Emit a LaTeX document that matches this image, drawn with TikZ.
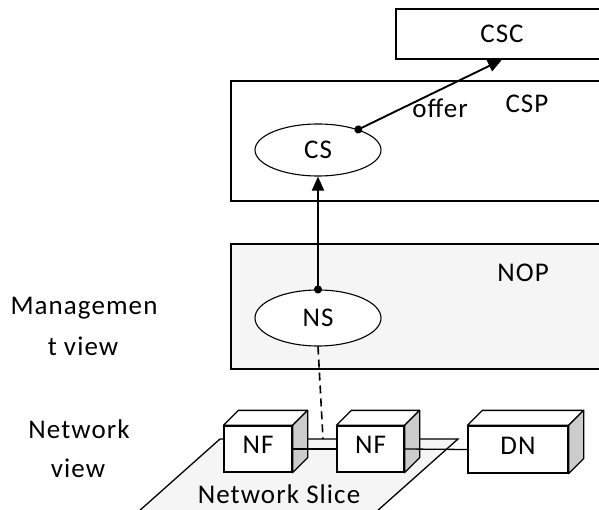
\documentclass[tikz,border=0pt]{standalone}
\usepackage{fontspec}
\setmainfont{Carlito}[LetterSpace=4]
\usetikzlibrary{arrows.meta,calc,shapes.geometric}
\newcommand\mycube[1]{%
  \draw[cubeface,fill=white] (#1.north west) -- ++(15,-15) -- ($(#1.north east)+(15,-15)$) -- (#1.north east) -- cycle;
  \draw[cubeface,fill=black!20] (#1.north east) -- ++(15,-15) -- ($(#1.south east)+(15,-15)$) -- (#1.south east) -- cycle;}
\begin{document}
\begin{tikzpicture}[x=1pt,y=-1pt,
  font=\fontsize{27}{32}\selectfont,
  box/.style={draw,line width=1.4pt,rectangle,inner sep=0pt},
  oval/.style={draw,line width=1.1pt,ellipse,inner sep=0pt,fill=white},
  cubefront/.style={draw,line width=1.3pt,fill=white,rectangle,inner sep=0pt,text height=18pt,text depth=9pt},
  cubeface/.style={draw,line width=1.3pt,line join=round},
  conn/.style={line width=1.3pt},
  arr/.style={line width=1.9pt,shorten <=-4pt,{Circle[length=8pt]}-{Triangle[length=14pt,width=12pt]}},
  dotfill/.style={fill=black!4},
  txt/.style={inner sep=0pt,anchor=base}
]
\useasboundingbox (0,0) rectangle (599,510);
% boxes
\node[box,minimum width=212pt,minimum height=50pt] (csc) at (502,34) {CSC};
\node[box,minimum width=389pt,minimum height=120pt] (csp) at (425.5,141) {};
\node[txt] (csplabel) at (527,113) {CSP};
\node[box,dotfill,minimum width=389pt,minimum height=125pt] (nop) at (425.5,306.5) {};
\node[txt] (noplabel) at (523,282) {NOP};
\node[oval,minimum width=126pt,minimum height=52pt] (cs) at (318,150) {CS};
\node[oval,minimum width=126pt,minimum height=56pt] (ns) at (318,318) {NS};
% network slice
\draw[line width=1.3pt,dotfill] (220,439) -- (458,439) -- (367,520) -- (129,520) -- cycle;
\node[txt] (sl) at (279,503) {Network Slice};
% dashed link
\coordinate (sliceTop) at (323,439);
\draw[line width=1.6pt,dash pattern=on 8pt off 5pt] (ns.south) -- (sliceTop);
% cubes
\node[cubefront,minimum width=68pt,minimum height=46pt] (nf1) at (258,449) {NF};
\mycube{nf1}
\node[cubefront,minimum width=67pt,minimum height=46pt] (nf2) at (370.5,449) {NF};
\mycube{nf2}
\node[cubefront,minimum width=100pt,minimum height=47pt] (dn) at (518,449.5) {DN};
\mycube{dn}
\draw[conn] (nf1.east) -- (nf2.west);
\draw[conn] (nf2.east) -- (dn.west);
% arrows
\draw[arr] (ns.north) -- (cs.south);
\draw[arr] (cs.27) -- (csc.south);
\node[txt] (offer) at (440,118) {offer};
% left labels
\node[txt] (m1) at (84,315) {Managemen};
\node[txt] (m2) at (83,355) {t view};
\node[txt] (n1) at (79,438) {Network};
\node[txt] (n2) at (78,477) {view};
\end{tikzpicture}
\end{document}
